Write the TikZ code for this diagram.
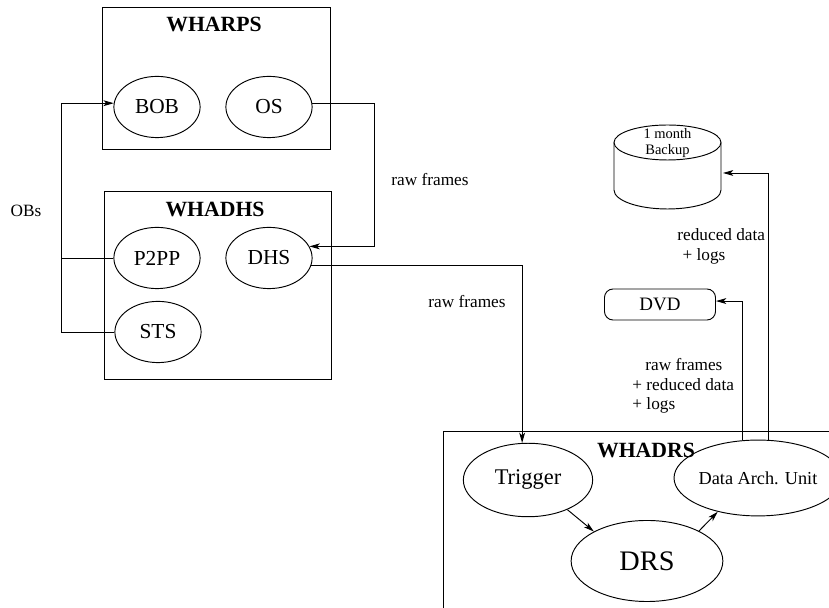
\documentclass[tikz,border=0pt]{standalone}
\usepackage{fontspec}
\setmainfont{Liberation Serif}
\usetikzlibrary{shapes.geometric,arrows.meta}

\begin{document}
\begin{tikzpicture}[x=0.58pt,y=-0.58pt,line width=0.55pt,
  proc/.style={draw,ellipse,inner sep=0pt,minimum width=50pt,minimum height=35.5pt,font=\fontsize{12.4}{14}\selectfont},
  boxtitle/.style={font=\fontsize{12.6}{15}\selectfont\bfseries},
  flowlabel/.style={font=\fontsize{10}{11.4}\selectfont,align=left,inner sep=0pt},
  flow/.style={-{Stealth[length=6pt,width=3.4pt,inset=1.6pt]}}]
\useasboundingbox (0,0) rectangle (829,608);
\clip (0,0) rectangle (829,608);
% system boxes
\draw (102,7) rectangle (330,149);
\node[boxtitle] (wharps) at (214,24) {WHARPS};
\draw (104,191) rectangle (331,379);
\node[boxtitle] (whadhs) at (215,209) {WHADHS};
\draw (443,431) rectangle (840,620);
\node[boxtitle] (whadrs) at (646,450) {WHADRS};
% processes
\foreach \nm/\x/\y in {BOB/157/107,OS/269/107,P2PP/157/258,DHS/269/258,STS/158/332}
  \node[proc] (\nm) at (\x,\y) {\nm};
\node[proc,minimum width=75pt,minimum height=42.6pt,font=\fontsize{13}{15}\selectfont] (Trigger) at (528,480) {Trigger};
\node[proc,minimum width=88pt,minimum height=47pt,font=\fontsize{16.4}{18}\selectfont] (DRS) at (647,561) {DRS};
\node[proc,minimum width=82.4pt,minimum height=44pt,font=\fontsize{10.6}{12}\selectfont] (DAU) at (758,478) {Data Arch. Unit};
\node[draw,rounded corners=5pt,minimum width=64.4pt,minimum height=18pt,inner sep=0pt,font=\fontsize{11}{13}\selectfont] (DVD) at (660,304.5) {DVD};
% backup disk
\draw (667.5,142.5) ellipse [x radius=53.5,y radius=17.5];
\draw (614,142.5) -- (614,190) arc[start angle=180,end angle=0,x radius=53.5,y radius=19] -- (721,142.5);
\node[font=\fontsize{8.4}{9.1}\selectfont,align=center,inner sep=0pt] (backup) at (667.5,143) {1 month\\Backup};
\coordinate (bkin) at (723,173);
% flows
\coordinate (obs) at (61,258);
\draw[flow] (P2PP.west) -- (obs) |- (BOB.175);
\draw (STS.west) -| (obs);
\node[flowlabel] (obslbl) at (26,211) {OBs};
\draw[flow] (OS.5) -- ++(62,0) |- (DHS.16);
\node[flowlabel] (rawone) at (430,180) {raw frames};
\draw[flow] (DHS.-10) -| (Trigger.99);
\node[flowlabel] (rawtwo) at (467,302) {raw frames};
\draw[flow] (Trigger.-37) -- (DRS.151);
\draw[flow] (DRS.30) -- (DAU.220);
\draw[flow] (DAU.112) |- ([yshift=2pt]DVD.east);
\draw[flow] (DAU.75) |- (bkin);
\node[flowlabel,anchor=north west] (archlbl) at (632,358) {\hspace*{7.5pt}raw frames\\+ reduced data\\+ logs};
\node[flowlabel,anchor=north west] (backlbl) at (677,228.5) {reduced data\\\hspace*{3pt}+ logs};
\end{tikzpicture}
\end{document}
